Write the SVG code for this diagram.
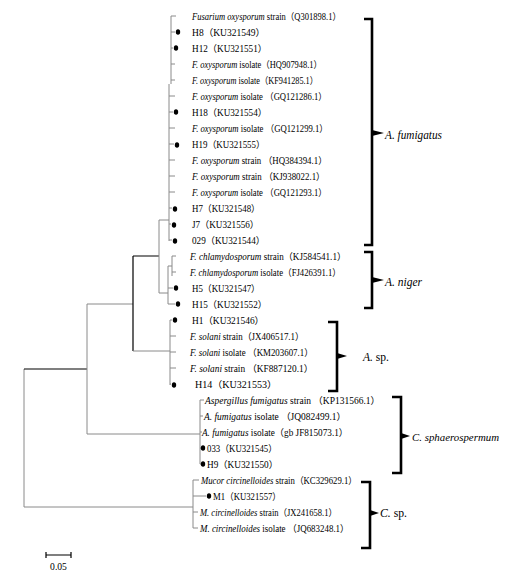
<svg xmlns="http://www.w3.org/2000/svg" width="510" height="579" viewBox="0 0 510 579">
<style>
text{font-family:"Liberation Serif","Noto Sans CJK SC",serif;font-size:9.6px;fill:#000}
.i{font-style:italic}
.lab{font-size:12.5px}
.g{stroke:#8a8a8a;stroke-width:1;fill:none}
.k{stroke:#000;stroke-width:1.2;fill:none}
.br{stroke:#000;stroke-width:2.6;fill:none;stroke-linejoin:miter}
.dot{fill:#000}
</style>
<rect width="510" height="579" fill="#fff"/>
<g id="connectors">
<path class="g" d="M24,369V507M24,507H193"/>
<path class="k" d="M24,369H87"/>
<path class="g" d="M87,304V434M87,304H133M87,434H200"/>
<path class="k" d="M133,256V351M133,256H159"/>
<path class="g" d="M133,351H170"/>
<path class="g" d="M159,220V293M159,220H169M159,293H168"/>
<path class="g" d="M171,16V84M169,84V241"/>
<path class="g" d="M171,16H176M171,32H175M171,48H173M171,64H175M171,80H175M169,96H175M169,112H173M169,128H175M169,144H174M169,160H175M169,176H175M169,192H175M169,208H172M169,224H171M169,240H172"/>
<path class="g" d="M172,256V276M168,266H172M172,256H176M172,272H176M168,266V304M168,288H173M168,304H175"/>
<path class="g" d="M170,320V385M170,320H172M170,336H176M170,352H176M170,368H176M170,384H171"/>
<path class="g" d="M200,400V464M200,400H204M200,416H203M200,432H202M200,448H201M200,464H201"/>
<path class="g" d="M193,480V528M193,480H199M193,496H206M193,512H198M193,528H198"/>
<path class="k" d="M46,555H71M46,552V558M71,552V558"/>
</g>
<g id="dots">
<ellipse class="dot" cx="178" cy="32" rx="2.2" ry="2.8"/>
<ellipse class="dot" cx="176" cy="48" rx="2.2" ry="2.8"/>
<ellipse class="dot" cx="176" cy="112" rx="2.2" ry="2.8"/>
<ellipse class="dot" cx="177" cy="145" rx="2.2" ry="2.8"/>
<ellipse class="dot" cx="175" cy="209" rx="2.2" ry="2.8"/>
<ellipse class="dot" cx="174" cy="225" rx="2.2" ry="2.8"/>
<ellipse class="dot" cx="175" cy="241" rx="2.2" ry="2.8"/>
<ellipse class="dot" cx="176" cy="288" rx="2.2" ry="2.8"/>
<ellipse class="dot" cx="178" cy="304" rx="2.2" ry="2.8"/>
<ellipse class="dot" cx="175" cy="320" rx="2.2" ry="2.8"/>
<ellipse class="dot" cx="174" cy="385" rx="2.2" ry="2.8"/>
<ellipse class="dot" cx="203" cy="448" rx="2.2" ry="2.8"/>
<ellipse class="dot" cx="203" cy="464" rx="2.2" ry="2.8"/>
<ellipse class="dot" cx="209" cy="496" rx="2.2" ry="2.8"/>
</g>
<g id="leaves">
<text x="192" y="19.5" textLength="149" lengthAdjust="spacingAndGlyphs"><tspan class="i">Fusarium oxysporum</tspan> strain（Q301898.1）</text>
<text x="192" y="35.5" textLength="73" lengthAdjust="spacingAndGlyphs">H8（KU321549）</text>
<text x="192" y="51.5" textLength="75" lengthAdjust="spacingAndGlyphs">H12（KU321551）</text>
<text x="192" y="67.5" textLength="130" lengthAdjust="spacingAndGlyphs"><tspan class="i">F. oxysporum</tspan> isolate（HQ907948.1）</text>
<text x="192" y="83.5" textLength="126" lengthAdjust="spacingAndGlyphs"><tspan class="i">F. oxysporum</tspan> isolate（KF941285.1）</text>
<text x="192" y="99.5" textLength="135" lengthAdjust="spacingAndGlyphs"><tspan class="i">F. oxysporum</tspan> isolate （GQ121286.1）</text>
<text x="192" y="115.5" textLength="75" lengthAdjust="spacingAndGlyphs">H18（KU321554）</text>
<text x="192" y="131.5" textLength="136" lengthAdjust="spacingAndGlyphs"><tspan class="i">F. oxysporum</tspan> isolate （GQ121299.1）</text>
<text x="192" y="148" textLength="73" lengthAdjust="spacingAndGlyphs">H19（KU321555）</text>
<text x="192" y="164" textLength="135" lengthAdjust="spacingAndGlyphs"><tspan class="i">F. oxysporum</tspan> strain （HQ384394.1）</text>
<text x="192" y="180" textLength="133" lengthAdjust="spacingAndGlyphs"><tspan class="i">F. oxysporum</tspan> strain （KJ938022.1）</text>
<text x="192" y="196" textLength="135" lengthAdjust="spacingAndGlyphs"><tspan class="i">F. oxysporum</tspan> isolate （GQ121293.1）</text>
<text x="192" y="212" textLength="68" lengthAdjust="spacingAndGlyphs">H7（KU321548）</text>
<text x="192" y="228" textLength="67" lengthAdjust="spacingAndGlyphs">J7（KU321556）</text>
<text x="192" y="244" textLength="73" lengthAdjust="spacingAndGlyphs">029（KU321544）</text>
<text x="190" y="260" textLength="156" lengthAdjust="spacingAndGlyphs"><tspan class="i">F. chlamydosporum</tspan> strain（KJ584541.1）</text>
<text x="190" y="276" textLength="151" lengthAdjust="spacingAndGlyphs"><tspan class="i">F. chlamydosporum</tspan> isolate（FJ426391.1）</text>
<text x="192" y="292" textLength="68" lengthAdjust="spacingAndGlyphs">H5（KU321547）</text>
<text x="192" y="308" textLength="75" lengthAdjust="spacingAndGlyphs">H15（KU321552）</text>
<text x="192" y="324" textLength="72" lengthAdjust="spacingAndGlyphs">H1（KU321546）</text>
<text x="190" y="340" textLength="114" lengthAdjust="spacingAndGlyphs"><tspan class="i">F. solani</tspan> strain（JX406517.1）</text>
<text x="190" y="356" textLength="123" lengthAdjust="spacingAndGlyphs"><tspan class="i">F. solani</tspan> isolate （KM203607.1）</text>
<text x="190" y="372" textLength="123" lengthAdjust="spacingAndGlyphs"><tspan class="i">F. solani</tspan> strain （KF887120.1）</text>
<text x="195" y="388" textLength="82" lengthAdjust="spacingAndGlyphs">H14（KU321553）</text>
<text x="205" y="404" textLength="175" lengthAdjust="spacingAndGlyphs"><tspan class="i">Aspergillus fumigatus</tspan> strain （KP131566.1）</text>
<text x="204" y="420" textLength="142" lengthAdjust="spacingAndGlyphs"><tspan class="i">A. fumigatus</tspan> isolate （JQ082499.1）</text>
<text x="202" y="436" textLength="146" lengthAdjust="spacingAndGlyphs"><tspan class="i">A. fumigatus</tspan> isolate（gb JF815073.1）</text>
<text x="207" y="452" textLength="70" lengthAdjust="spacingAndGlyphs">033（KU321545）</text>
<text x="207" y="468" textLength="71" lengthAdjust="spacingAndGlyphs">H9（KU321550）</text>
<text x="201" y="484" textLength="156" lengthAdjust="spacingAndGlyphs"><tspan class="i">Mucor circinelloides</tspan> strain（KC329629.1）</text>
<text x="213" y="500" textLength="68" lengthAdjust="spacingAndGlyphs">M1（KU321557）</text>
<text x="200" y="516" textLength="137" lengthAdjust="spacingAndGlyphs"><tspan class="i">M. circinelloides</tspan> strain（JX241658.1）</text>
<text x="200" y="532" textLength="149" lengthAdjust="spacingAndGlyphs"><tspan class="i">M. circinelloides</tspan> isolate （JQ683248.1）</text>
</g>
<g id="bracket-fumigatus">
<path class="br" d="M364,19H372V245H364"/>
<path class="dot" d="M372,130L384,133L372,136Z"/>
<text class="lab i" x="385" y="139" textLength="57" lengthAdjust="spacingAndGlyphs">A. fumigatus</text>
</g>
<g id="bracket-niger">
<path class="br" d="M364,252H372V308H364"/>
<path class="dot" d="M372,277L384,280L372,283Z"/>
<text class="lab i" x="385" y="286" textLength="37" lengthAdjust="spacingAndGlyphs">A. niger</text>
</g>
<g id="bracket-asp">
<path class="br" d="M328,322H337V391H328"/>
<path class="dot" d="M337,353L347,356L337,359Z"/>
<text class="lab" x="363" y="361" textLength="26" lengthAdjust="spacingAndGlyphs"><tspan class="i">A.</tspan> sp.</text>
</g>
<g id="bracket-csphaero">
<path class="br" d="M392,397H401V473H392"/>
<path class="dot" d="M401,433L410,436L401,439Z"/>
<text class="lab i" x="412" y="441" style="font-size:11px" textLength="87" lengthAdjust="spacingAndGlyphs">C. sphaerospermum</text>
</g>
<g id="bracket-csp">
<path class="br" d="M361,482H370V548H361"/>
<path class="dot" d="M370,510L379,513L370,516Z"/>
<text class="lab" x="380" y="517" textLength="27" lengthAdjust="spacingAndGlyphs"><tspan class="i">C.</tspan> sp.</text>
</g>
<g id="scale">
<text x="58.5" y="570" text-anchor="middle">0.05</text>
</g>
</svg>
